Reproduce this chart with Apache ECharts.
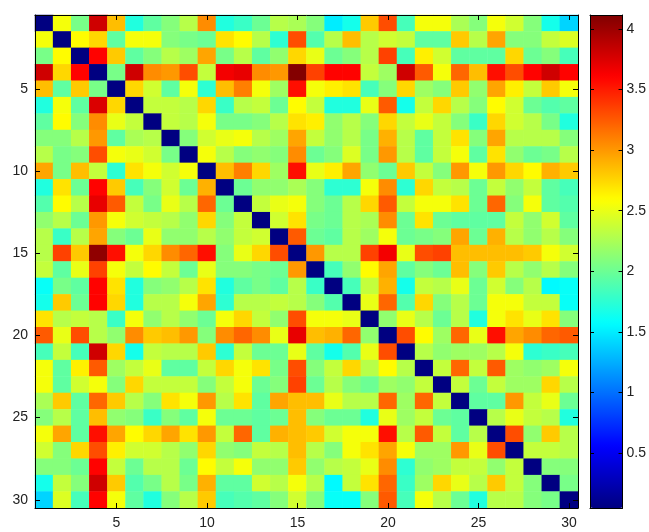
<!DOCTYPE html>
<html><head><meta charset="utf-8">
<script src="https://cdn.jsdelivr.net/npm/echarts@6/dist/echarts.min.js"></script>
<style>html,body{margin:0;padding:0;background:#fff}#c{width:649px;height:532px}</style>
</head><body><div id="c"></div>
<script>
const categories = ['1','2','3','4','5','6','7','8','9','10','11','12','13','14','15','16','17','18','19','20','21','22','23','24','25','26','27','28','29','30'];
const tickLabels = ['5','10','15','20','25','30'];
const colorbarTicks = [0.5, 1, 1.5, 2, 2.5, 3, 3.5, 4];
const valueMin = 0.046, valueMax = 4.115;

const r01 = [0.05,2.55,2.05,3.8,2.85,1.7,1.95,2.1,2.3,3.05,1.7,1.8,2.0,2.3,2.25,2.1,1.5,1.65,2.8,3.3,1.85,2.55,2.55,2.25,2.1,2.55,2.4,2.1,1.65,1.4];
const r02 = [2.55,0.05,2.6,2.75,1.95,2.55,2.55,2.1,2.05,2.0,2.7,2.6,2.3,1.75,3.3,1.9,2.3,2.85,2.3,2.4,2.35,1.95,1.95,2.8,2.3,2.95,2.1,2.1,2.35,2.45];
const r03 = [2.05,2.6,0.05,3.6,2.8,1.95,2.1,2.3,2.2,2.95,2.05,2.3,1.95,2.15,2.75,2.5,2.0,2.1,2.3,3.35,1.85,2.65,2.4,1.95,1.95,1.95,2.75,2.0,2.1,1.85];
const r04 = [3.8,2.75,3.6,0.05,2.05,3.8,3.05,3.0,3.3,2.35,3.65,3.7,3.05,3.0,4.1,3.35,3.6,3.6,2.35,2.2,3.8,3.25,2.55,3.2,2.85,3.55,3.3,3.6,3.8,3.6];
const r05 = [2.85,1.95,2.8,2.05,0.05,2.75,2.4,1.95,2.55,1.75,2.85,3.1,2.55,2.2,3.55,2.55,2.65,2.7,1.85,2.1,2.75,2.2,2.1,2.8,2.15,2.95,2.65,2.35,2.8,2.55];
const r06 = [1.7,2.55,1.95,3.75,2.75,0.05,2.35,2.35,2.3,2.75,1.8,2.3,2.35,2.0,2.6,2.35,1.7,1.7,2.5,3.25,1.65,2.35,2.75,2.3,2.1,2.6,2.4,2.0,1.9,1.95];
const r07 = [1.95,2.6,2.1,3.05,2.5,2.35,0.05,2.35,2.3,2.55,2.05,2.05,2.1,2.3,2.7,2.65,2.15,2.3,2.1,2.75,2.35,2.5,2.35,2.1,1.8,2.75,2.4,2.3,2.05,1.7];
const r08 = [2.1,2.1,2.3,3.0,1.95,2.25,2.3,0.05,2.1,2.4,2.5,2.55,2.3,2.2,2.95,2.35,2.15,2.3,2.05,2.9,2.3,1.95,2.35,2.7,2.1,2.95,2.3,2.3,2.3,2.1];
const r09 = [2.3,2.05,2.1,3.3,2.55,2.5,2.4,2.05,0.05,2.55,2.3,2.1,2.15,2.1,3.05,2.0,2.1,2.45,2.05,3.0,2.3,1.95,2.35,2.55,1.95,2.7,2.15,2.0,2.05,2.3];
const r10 = [2.95,2.05,2.85,2.35,1.75,2.7,2.55,2.4,2.55,0.05,2.85,3.1,2.75,2.2,3.55,2.5,2.65,2.95,2.15,2.0,2.8,2.35,2.1,3.0,2.55,3.0,2.75,2.6,2.9,2.8];
const r11 = [1.7,2.7,2.0,3.6,2.8,1.85,2.1,2.4,2.0,2.9,0.05,2.0,2.15,2.15,2.25,2.1,1.75,1.75,2.55,3.05,1.75,2.75,2.35,2.3,2.0,2.35,2.15,2.35,1.95,1.85];
const r12 = [1.9,2.6,2.3,3.7,3.25,2.35,2.05,2.5,2.3,3.2,2.0,0.05,2.35,2.5,2.55,2.1,2.0,2.3,2.75,3.25,2.35,2.55,2.55,2.7,2.0,3.2,2.1,2.55,1.95,1.9];
const r13 = [2.15,2.3,2.0,3.0,2.55,2.4,2.35,2.3,2.15,2.75,2.1,2.35,0.05,2.4,2.7,2.05,2.0,2.3,2.25,3.05,2.0,2.7,2.0,1.95,1.95,1.95,2.35,2.15,2.4,1.95];
const r14 = [2.3,1.8,2.3,2.95,2.1,2.0,2.5,2.15,2.15,2.3,2.15,2.35,2.4,0.05,3.25,2.0,1.95,2.3,2.2,2.55,2.0,2.05,2.1,2.95,2.0,2.9,2.3,2.15,2.3,2.1];
const r15 = [2.3,3.35,2.8,4.05,3.55,2.55,2.75,3.05,3.2,3.55,2.1,2.5,2.75,3.3,0.05,3.0,2.3,2.3,3.35,3.65,2.5,3.3,3.35,2.85,2.85,2.85,2.85,2.8,2.55,2.4];
const r16 = [2.35,1.95,2.5,3.35,2.55,2.35,2.6,2.35,2.0,2.5,2.1,2.1,2.05,2.0,3.0,0.05,1.85,2.15,2.6,2.95,1.95,2.1,2.0,2.85,2.1,2.8,2.3,2.15,2.3,2.1];
const r17 = [1.6,2.05,1.95,3.6,2.7,1.7,2.1,2.15,2.3,2.7,1.7,1.95,2.05,1.95,2.3,1.8,0.05,1.85,2.35,2.9,1.65,2.35,2.3,2.5,2.0,2.4,2.1,2.3,1.55,1.6];
const r18 = [1.65,2.8,2.0,3.6,2.75,1.7,2.3,2.3,2.55,2.95,1.75,2.3,2.3,2.35,2.3,2.1,1.9,0.05,2.5,3.2,1.9,2.75,2.1,2.3,2.0,2.55,2.55,2.35,2.35,1.6];
const r19 = [2.7,2.3,2.35,2.3,1.8,2.55,2.15,2.3,2.15,2.0,2.55,2.75,2.35,2.15,3.3,2.55,2.55,2.5,0.05,2.15,2.5,2.3,2.0,2.3,1.7,2.55,2.7,2.5,2.7,2.1];
const r20 = [3.25,2.5,3.3,2.3,2.15,3.05,2.8,2.85,3.0,2.1,3.05,3.2,3.05,2.5,3.7,2.85,2.9,3.2,2.15,0.05,3.3,2.6,2.2,3.2,2.5,3.55,2.95,3.05,3.2,3.25];
const r21 = [1.85,2.35,1.85,3.8,2.75,1.65,2.35,2.3,2.3,2.8,1.75,2.35,2.0,2.0,2.5,1.95,1.65,1.9,2.5,3.3,0.05,2.3,2.15,2.2,2.2,2.3,2.55,1.75,1.8,1.85];
const r22 = [2.55,1.95,2.65,3.25,2.2,2.35,2.5,1.95,1.95,2.35,2.75,2.55,2.7,2.05,3.3,2.1,2.35,2.75,2.3,2.6,2.3,0.05,2.35,3.2,2.35,3.25,2.2,2.15,2.2,2.55];
const r23 = [2.55,1.95,2.4,2.55,2.1,2.75,2.35,2.35,2.35,2.1,2.35,2.55,2.0,2.1,3.35,2.0,2.3,2.1,2.0,2.2,2.15,2.35,0.05,2.35,2.0,2.35,2.2,2.2,2.75,2.3];
const r24 = [2.25,2.8,1.95,3.2,2.8,2.3,2.1,2.7,2.55,3.0,2.3,2.7,1.95,2.95,2.85,2.85,2.5,2.3,2.3,3.2,2.2,3.2,2.35,0.05,1.95,1.95,3.0,2.35,2.5,2.0];
const r25 = [2.1,2.3,1.95,2.85,2.15,2.1,1.8,2.1,1.95,2.55,2.0,2.0,1.95,2.0,2.85,2.1,2.0,2.0,1.7,2.5,2.2,2.35,2.0,1.95,0.05,2.3,2.5,2.35,2.3,1.7];
const r26 = [2.55,2.95,1.95,3.55,2.95,2.6,2.75,2.95,2.7,3.0,2.35,3.2,1.95,2.9,2.85,2.8,2.4,2.55,2.55,3.55,2.3,3.25,2.35,1.95,2.3,0.05,3.3,2.15,2.8,2.3];
const r27 = [2.4,2.1,2.75,3.3,2.65,2.4,2.4,2.3,2.15,2.75,2.15,2.1,2.35,2.3,2.85,2.3,2.1,2.55,2.7,2.95,2.55,2.2,2.2,3.0,2.5,3.3,0.05,2.35,2.35,2.3];
const r28 = [2.1,2.1,2.0,3.6,2.35,2.0,2.3,2.3,2.0,2.6,2.35,2.55,2.15,2.15,2.8,2.15,2.3,2.35,2.5,3.05,1.75,2.15,2.2,2.35,2.35,2.15,2.35,0.05,2.1,2.1];
const r29 = [1.65,2.35,2.1,3.8,2.8,1.9,2.05,2.3,2.05,2.9,1.95,1.95,2.4,2.3,2.55,2.3,1.55,2.35,2.7,3.2,1.8,2.2,2.75,2.5,2.3,2.8,2.35,2.1,0.05,2.05];
const r30 = [1.4,2.45,1.85,3.6,2.55,1.95,1.7,2.1,2.3,2.8,1.85,1.9,1.95,2.1,2.4,2.1,1.6,1.6,2.1,3.25,1.85,2.55,2.3,2.0,1.7,2.3,2.3,2.1,2.05,0.05];

const rows = [r01,r02,r03,r04,r05,r06,r07,r08,r09,r10,r11,r12,r13,r14,r15,r16,r17,r18,r19,r20,r21,r22,r23,r24,r25,r26,r27,r28,r29,r30];
const jet = ['#000080','#0000ff','#0080ff','#00ffff','#80ff80','#ffff00','#ff8000','#ff0000','#800000'];

const data = [];
rows.forEach((row, y) => row.forEach((v, x) => data.push([x, y, v])));

const showTick = (i, v) => tickLabels.includes(v != null ? String(v) : categories[i]);
const showIdx = (i) => tickLabels.includes(categories[i]);
const font = { color: '#222', fontSize: 14, fontFamily: '"Liberation Sans", Arial, sans-serif' };
const line = { show: true, lineStyle: { color: '#000', width: 1 } };
const catTick = { show: true, inside: true, length: 5, alignWithLabel: true, interval: showIdx, lineStyle: { color: '#000' } };

function catAxis(pos, withLabel, extra) {
  return Object.assign({
    type: 'category', gridIndex: 0, data: categories, position: pos, z: 10,
    axisLine: line, axisTick: catTick, splitLine: { show: false },
    axisLabel: withLabel ? Object.assign({ interval: showIdx, margin: pos === 'bottom' ? 8 : 7 }, font) : { show: false }
  }, extra || {});
}

const chart = echarts.init(document.getElementById('c'), null, { renderer: 'canvas' });
chart.setOption({
  backgroundColor: '#fff',
  animation: false,
  grid: [
    { left: 35, top: 15, width: 543, height: 493 },
    { left: 590, top: 15, width: 33, height: 493 }
  ],
  xAxis: [
    catAxis('bottom', true),
    catAxis('top', false),
    { type: 'category', gridIndex: 1, data: [''], position: 'bottom', z: 10, axisLine: line, axisTick: { show: false }, axisLabel: { show: false } },
    { type: 'category', gridIndex: 1, data: [''], position: 'top', z: 10, axisLine: line, axisTick: { show: false }, axisLabel: { show: false } }
  ],
  yAxis: [
    catAxis('left', true, { inverse: true }),
    catAxis('right', false, { inverse: true }),
    { type: 'value', gridIndex: 1, min: valueMin, max: valueMax, position: 'right', z: 10,
      axisLine: line, splitLine: { show: false },
      axisTick: { show: true, inside: true, length: 4, customValues: colorbarTicks, lineStyle: { color: '#000' } },
      axisLabel: Object.assign({ customValues: colorbarTicks, margin: 4 }, font) },
    { type: 'value', gridIndex: 1, min: valueMin, max: valueMax, position: 'left', z: 10,
      axisLine: line, splitLine: { show: false },
      axisTick: { show: true, inside: true, length: 4, customValues: colorbarTicks, lineStyle: { color: '#000' } },
      axisLabel: { show: false } }
  ],
  visualMap: {
    type: 'continuous', min: valueMin, max: valueMax, seriesIndex: 0, dimension: 2,
    calculable: false, hoverLink: false, realtime: false,
    left: 590, top: 15, itemWidth: 33, itemHeight: 493, padding: 0,
    text: null, showLabel: false,
    inRange: { color: jet }
  },
  series: [{
    type: 'heatmap', xAxisIndex: 0, yAxisIndex: 0, data: data,
    emphasis: { disabled: true }, itemStyle: { borderWidth: 0 }
  }]
});
</script></body></html>
